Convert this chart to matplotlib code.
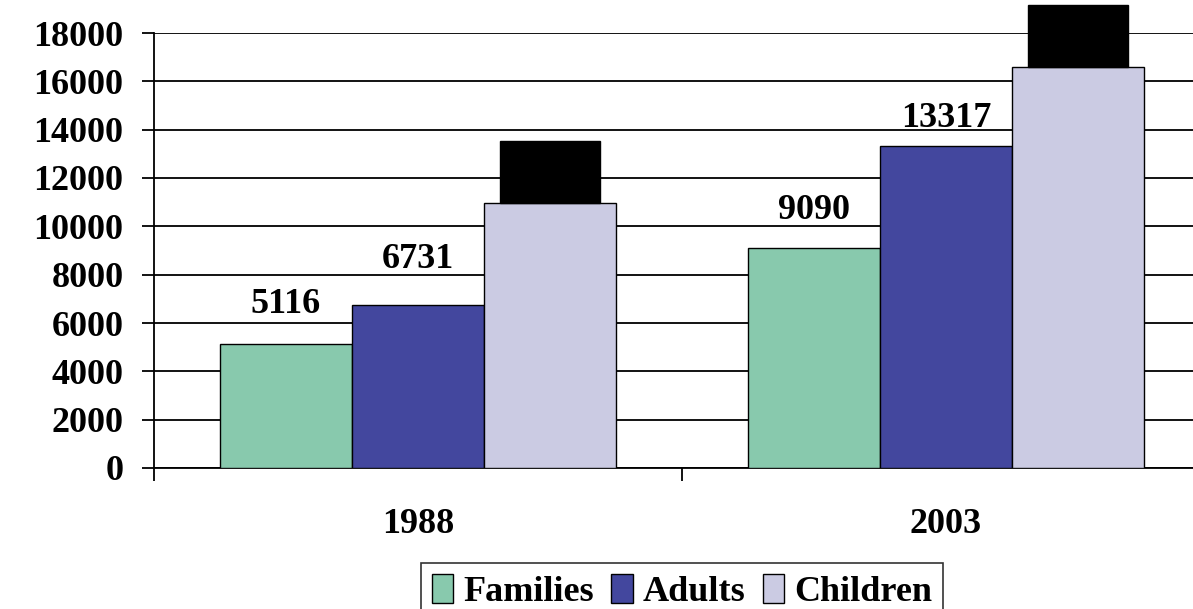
import matplotlib.pyplot as plt
import numpy as np

# values per year
years = ['1988', '2003']
families = [5116, 9090]
adults = [6731, 13317]
children = [10950, 16580]

series_names = ['Families', 'Adults', 'Children']
series_colors = ['#88C9AD', '#43479E', '#CBCBE3']

# label lift above each bar, in points
label_lift = [[16.5, 15], [21, 8]]

plt.rcParams['font.family'] = ['Liberation Serif', 'DejaVu Serif']
plt.rcParams['font.weight'] = 'bold'

W, H = 1193, 609
fig = plt.figure(figsize=(W / 100, H / 100), dpi=100)
ax = fig.add_axes([154 / W, (H - 468) / H, 1056 / W, 435 / H])

x = np.arange(len(years))
bw = 0.25
for i, (vals, name, col) in enumerate(zip([families, adults, children], series_names, series_colors)):
    ax.bar(x + (i - 1) * bw, vals, bw, color=col, edgecolor='black', linewidth=1.0,
           label=name, zorder=3)

# visible value labels for families and adults
for i, vals in enumerate([families, adults]):
    for j, v in enumerate(vals):
        ax.annotate(str(v), (x[j] + (i - 1) * bw, v), xytext=(0, label_lift[i][j]),
                    textcoords='offset points', ha='center', va='bottom',
                    fontsize=26, fontweight='bold', annotation_clip=False, zorder=4)

# children labels sit in a black box
for j, v in enumerate(children):
    ax.annotate(str(v), (x[j] + bw, v), xytext=(0, 15),
                textcoords='offset points', ha='center', va='bottom',
                fontsize=17.2, fontweight='bold', color='black', annotation_clip=False,
                bbox=dict(boxstyle='square,pad=0.84', facecolor='black', edgecolor='black'),
                zorder=4)

ax.set_xlim(-0.5, 1.5)
ax.set_ylim(0, 18000)
ax.set_yticks(np.arange(0, 18001, 2000))
ax.yaxis.grid(True, color='black', linewidth=1.3, zorder=0)
ax.set_axisbelow(True)

ax.set_xticks(x)
ax.set_xticklabels(years)
ax.set_xticks([-0.5, 0.5, 1.5], minor=True)
ax.tick_params(axis='x', which='major', length=0, pad=29, labelsize=26)
ax.tick_params(axis='x', which='minor', length=9, width=1.3, direction='out')
ax.tick_params(axis='y', length=9, width=1.3, pad=13, labelsize=26)

for s in ['top', 'right']:
    ax.spines[s].set_visible(False)
for s in ['left', 'bottom']:
    ax.spines[s].set_linewidth(1.3)

leg = fig.legend(loc='upper center', bbox_to_anchor=(682 / W, (H - 563) / H),
                 ncol=3, fontsize=26, frameon=True, fancybox=False,
                 handlelength=0.6, handleheight=0.85, handletextpad=0.28,
                 columnspacing=0.47, borderpad=0.3, borderaxespad=0)
leg.get_frame().set_edgecolor('black')
leg.get_frame().set_linewidth(1.2)

fig.savefig('out.png', dpi=100)
